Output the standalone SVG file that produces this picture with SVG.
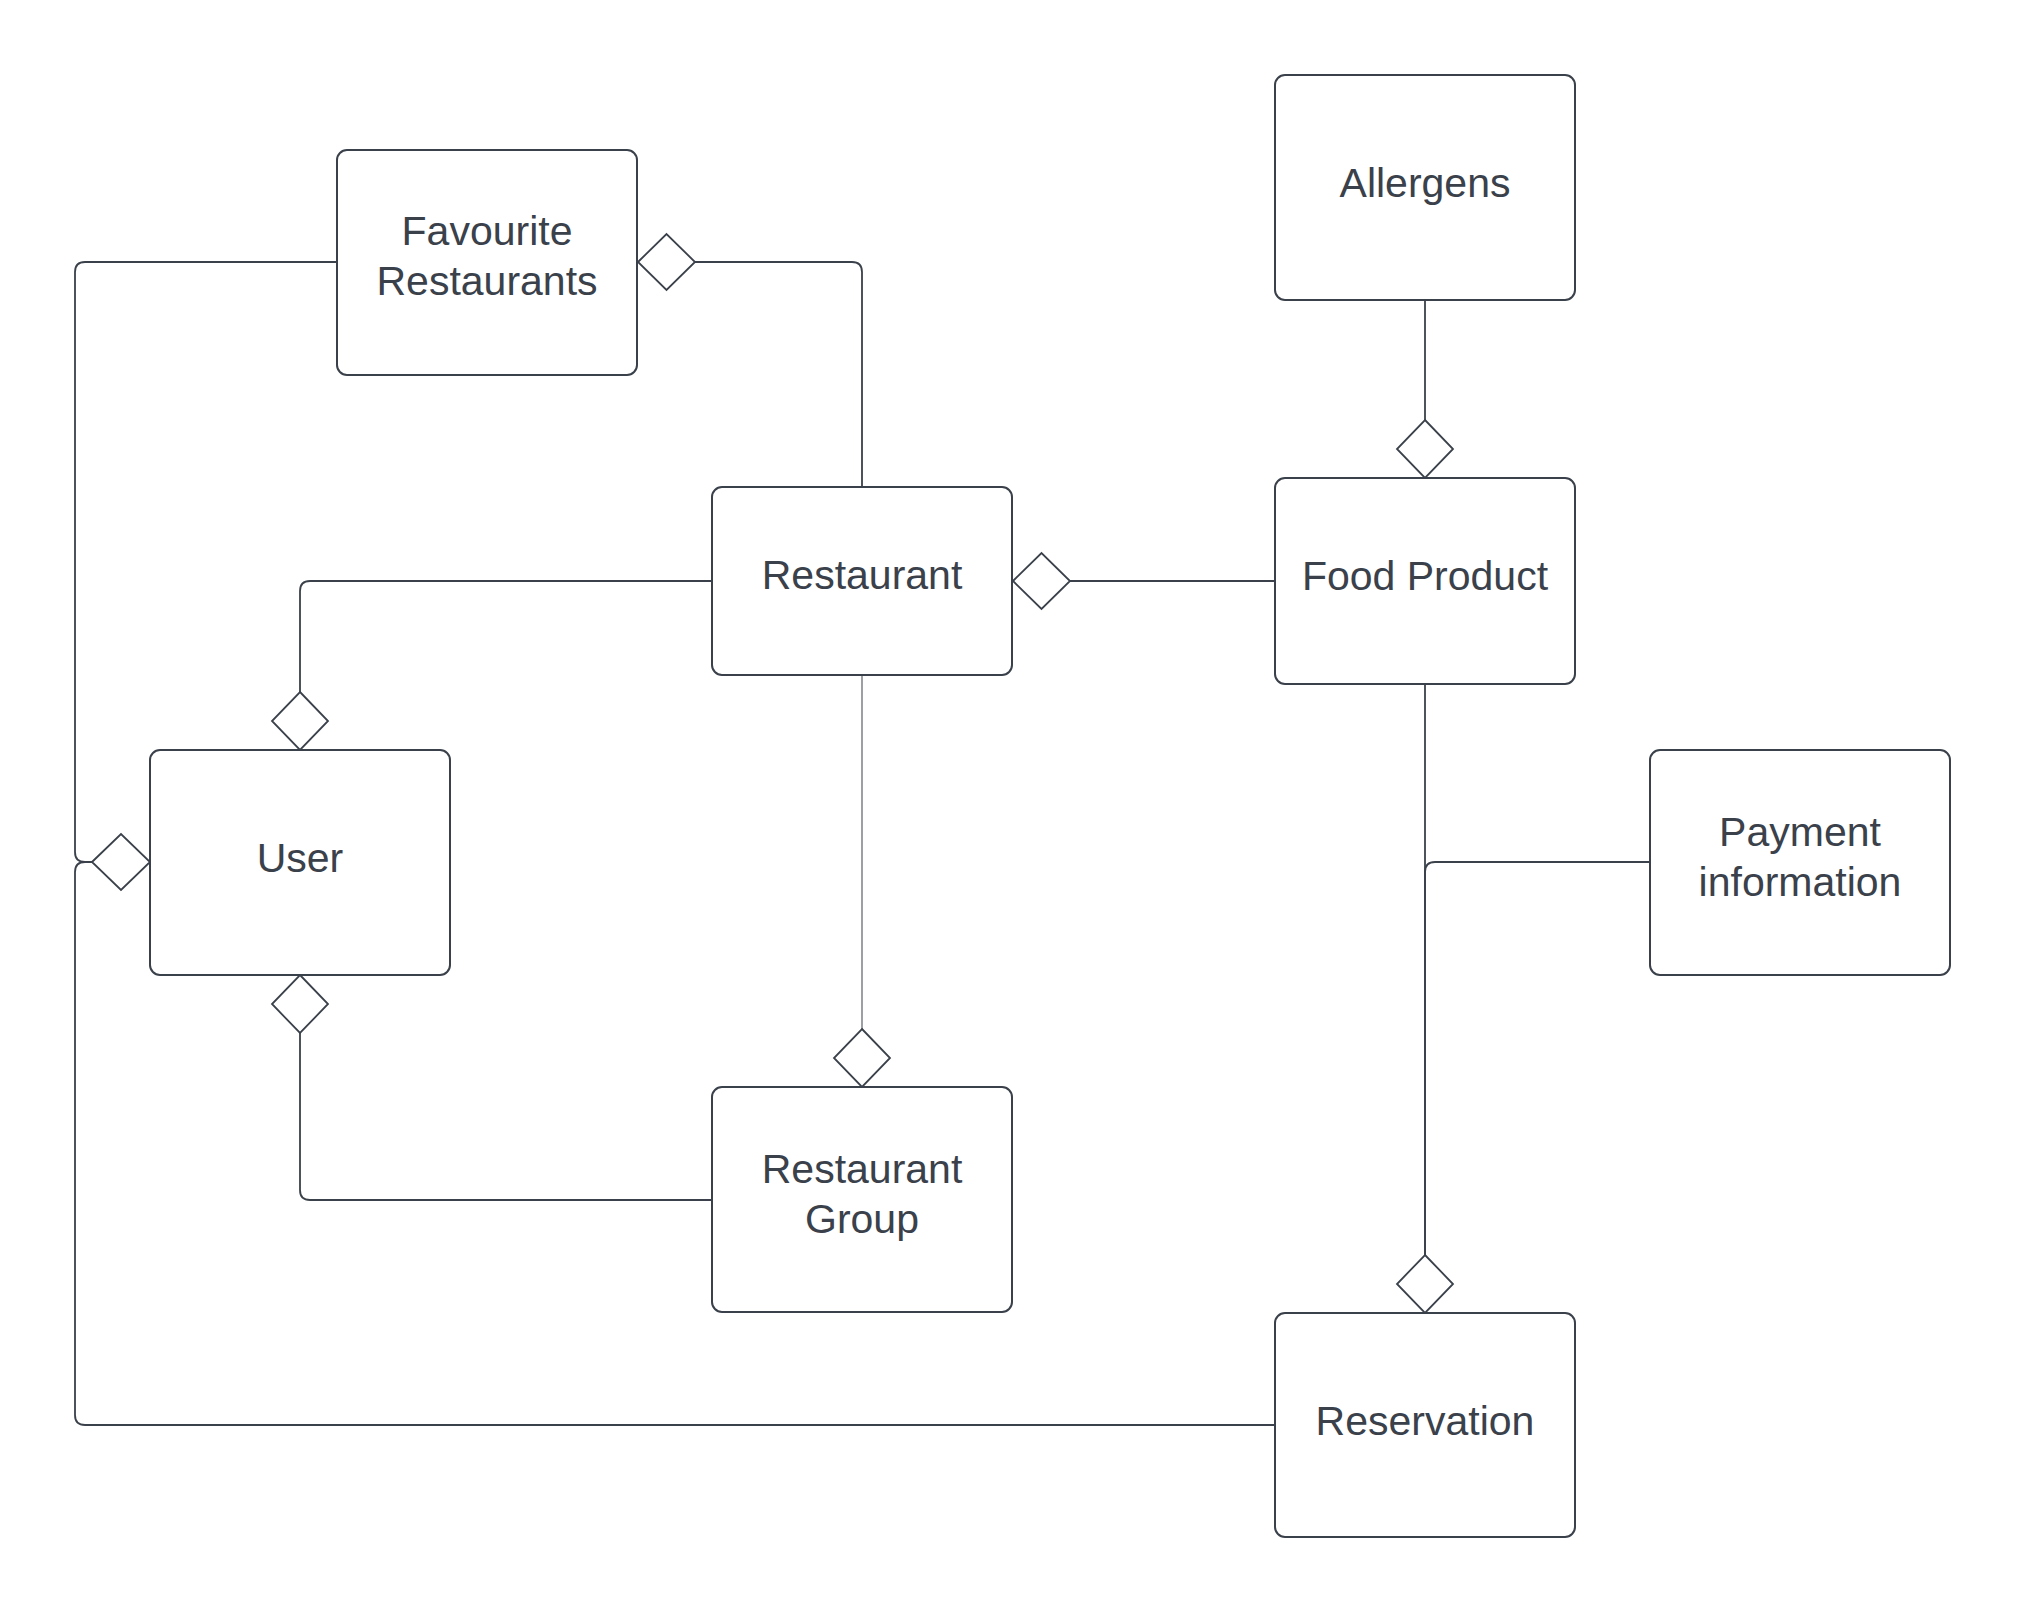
<svg xmlns="http://www.w3.org/2000/svg" width="2027" height="1613" viewBox="0 0 2027 1613">
<style>
.box{fill:#ffffff;stroke:#3a414a;stroke-width:2}
.lbl{font-family:"Liberation Sans",Arial,sans-serif;font-size:41px;fill:#3a414a;text-anchor:middle}
.ln{fill:none;stroke:#3a414a;stroke-width:1.8}
.thin{fill:none;stroke:#5a6069;stroke-width:1.2}
.dia{fill:#ffffff;stroke:#3a414a;stroke-width:1.8}
</style>
<rect width="2027" height="1613" fill="#ffffff"/>
<g id="connectors">
  <path class="ln" d="M695,262 H852 Q862,262 862,272 V487"/>
  <polygon class="dia" points="638,262 666.5,234 695,262 666.5,290"/>
  <path class="ln" d="M1070,581 H1275"/>
  <polygon class="dia" points="1013,581 1041.5,553 1070,581 1041.5,609"/>
  <path class="ln" d="M1425,300 V420"/>
  <polygon class="dia" points="1425,420 1453,449 1425,478 1397,449"/>
  <path class="ln" d="M712,581 H310 Q300,581 300,591 V692"/>
  <polygon class="dia" points="300,692 328,721 300,750 272,721"/>
  <path class="thin" d="M862,675 V1029"/>
  <polygon class="dia" points="862,1029 890,1058 862,1087 834,1058"/>
  <path class="ln" d="M712,1200 H310 Q300,1200 300,1190 V1033"/>
  <polygon class="dia" points="300,975 328,1004 300,1033 272,1004"/>
  <path class="ln" d="M337,262 H85 Q75,262 75,272 V852 Q75,862 85,862 H92"/>
  <path class="ln" d="M1275,1425 H85 Q75,1425 75,1415 V872 Q75,862 85,862 H92"/>
  <polygon class="dia" points="92,862 121,834 150,862 121,890"/>
  <path class="ln" d="M1425,684 V1255"/>
  <path class="ln" d="M1650,862 H1435 Q1425,862 1425,872 V1255"/>
  <polygon class="dia" points="1425,1255 1453,1284 1425,1313 1397,1284"/>
</g>
<g id="favourite-restaurants">
  <rect class="box" x="337" y="150" width="300" height="225" rx="10"/>
  <text class="lbl" x="487" y="245">Favourite</text>
  <text class="lbl" x="487" y="295">Restaurants</text>
</g>
<g id="allergens">
  <rect class="box" x="1275" y="75" width="300" height="225" rx="10"/>
  <text class="lbl" x="1425" y="197">Allergens</text>
</g>
<g id="restaurant">
  <rect class="box" x="712" y="487" width="300" height="188" rx="10"/>
  <text class="lbl" x="862" y="589">Restaurant</text>
</g>
<g id="food-product">
  <rect class="box" x="1275" y="478" width="300" height="206" rx="10"/>
  <text class="lbl" x="1425" y="590">Food Product</text>
</g>
<g id="user">
  <rect class="box" x="150" y="750" width="300" height="225" rx="10"/>
  <text class="lbl" x="300" y="872">User</text>
</g>
<g id="payment-information">
  <rect class="box" x="1650" y="750" width="300" height="225" rx="10"/>
  <text class="lbl" x="1800" y="846">Payment</text>
  <text class="lbl" x="1800" y="896">information</text>
</g>
<g id="restaurant-group">
  <rect class="box" x="712" y="1087" width="300" height="225" rx="10"/>
  <text class="lbl" x="862" y="1183">Restaurant</text>
  <text class="lbl" x="862" y="1233">Group</text>
</g>
<g id="reservation">
  <rect class="box" x="1275" y="1313" width="300" height="224" rx="10"/>
  <text class="lbl" x="1425" y="1435">Reservation</text>
</g>
</svg>
